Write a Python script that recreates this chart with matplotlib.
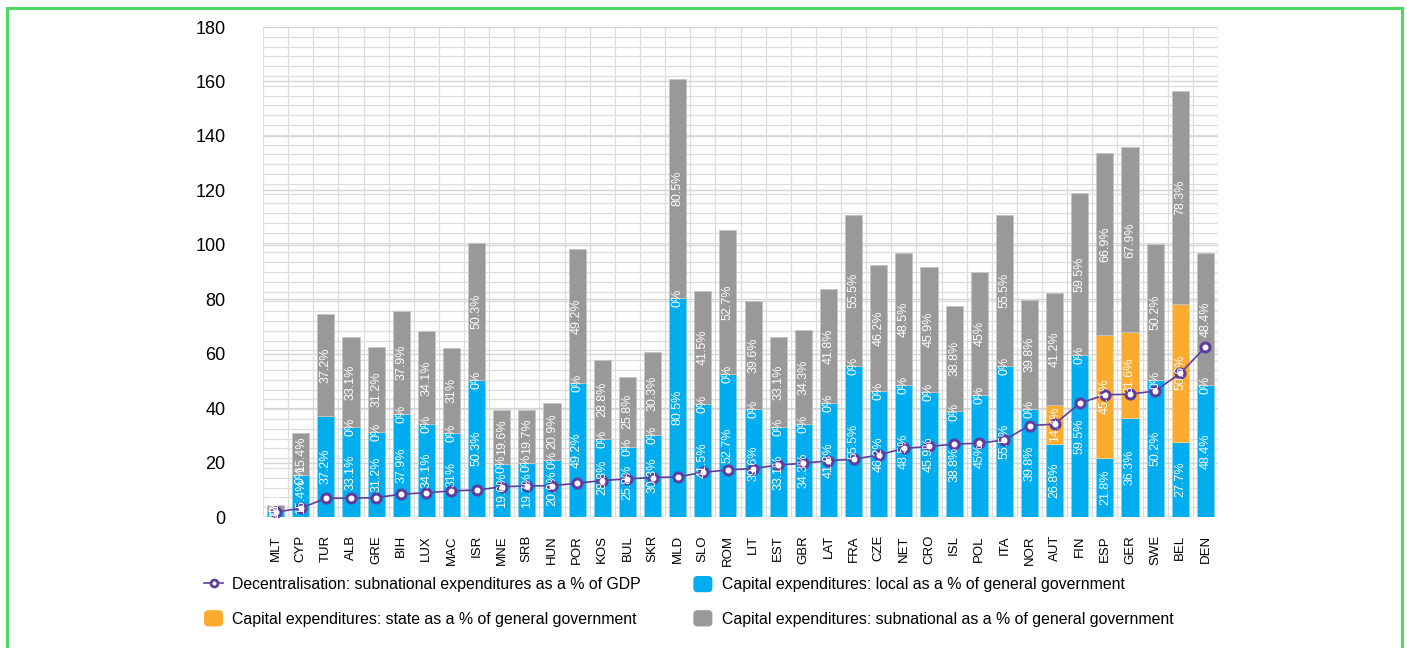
"""
Decentralisation and capital expenditures by country
"""

import matplotlib
matplotlib.use('Agg')
import matplotlib.pyplot as plt
import matplotlib.ticker as mticker
import numpy as np
from matplotlib.legend_handler import HandlerPatch
from matplotlib.lines import Line2D
from matplotlib.patches import FancyBboxPatch, Patch

countries = ['MLT', 'CYP', 'TUR', 'ALB', 'GRE', 'BIH', 'LUX', 'MAC', 'ISR',
             'MNE', 'SRB', 'HUN', 'POR', 'KOS', 'BUL', 'SKR', 'MLD', 'SLO',
             'ROM', 'LIT', 'EST', 'GBR', 'LAT', 'FRA', 'CZE', 'NET', 'CRO',
             'ISL', 'POL', 'ITA', 'NOR', 'AUT', 'FIN', 'ESP', 'GER', 'SWE',
             'BEL', 'DEN']

# Capital expenditures as % of general government
local = [2.2, 15.4, 37.2, 33.1, 31.2, 37.9, 34.1, 31, 50.3,
         19.6, 19.7, 20.9, 49.2, 28.8, 25.8, 30.3, 80.5, 41.5,
         52.7, 39.6, 33.1, 34.3, 41.8, 55.5, 46.2, 48.5, 45.9,
         38.8, 45, 55.5, 39.8, 26.8, 59.5, 21.8, 36.3, 50.2,
         27.7, 48.4]
state = [0, 0, 0, 0, 0, 0, 0, 0, 0,
         0, 0, 0, 0, 0, 0, 0, 0, 0,
         0, 0, 0, 0, 0, 0, 0, 0, 0,
         0, 0, 0, 0, 14.4, 0, 45.1, 31.6, 0,
         50.6, 0]
subnational = [2.2, 15.4, 37.2, 33.1, 31.2, 37.9, 34.1, 31, 50.3,
               19.6, 19.7, 20.9, 49.2, 28.8, 25.8, 30.3, 80.5, 41.5,
               52.7, 39.6, 33.1, 34.3, 41.8, 55.5, 46.2, 48.5, 45.9,
               38.8, 45, 55.5, 39.8, 41.2, 59.5, 66.9, 67.9, 50.2,
               78.3, 48.4]

# Decentralisation: subnational expenditures as % of GDP
decentralisation = [1.8, 3.2, 6.9, 6.9, 7.1, 8.4, 8.9, 9.6, 9.9,
                    11.1, 11.4, 11.5, 12.4, 13.4, 14.0, 14.5, 14.7, 16.4,
                    17.3, 17.8, 19.1, 19.7, 20.7, 21.2, 22.8, 25.2, 25.9,
                    26.8, 27.1, 28.3, 33.6, 34.1, 41.8, 44.9, 45.1, 46.3,
                    52.8, 62.4]

BLUE = '#00aeef'
ORANGE = '#fbab30'
GREY = '#999999'
PURPLE = '#5e3d9e'


class RoundedHandler(HandlerPatch):
    def create_artists(self, legend, orig_handle, xdescent, ydescent,
                       width, height, fontsize, trans):
        p = FancyBboxPatch((-xdescent, -ydescent), width, height,
                           boxstyle='round,pad=0,rounding_size=3',
                           facecolor=orig_handle.get_facecolor(),
                           edgecolor='none', transform=trans)
        return [p]


def pct(values):
    return [f'{v:g}%' for v in values]


plt.rcParams['font.family'] = ['Liberation Sans', 'DejaVu Sans']

fig = plt.figure(figsize=(14.07, 6.48), dpi=100)
ax = fig.add_axes([263 / 1407, 1 - 517 / 648, 955 / 1407, 490 / 648])

x = np.arange(len(countries))
local_a = np.array(local)
state_a = np.array(state)
sub_a = np.array(subnational)

w = 0.68
b1 = ax.bar(x, local_a, w, color=BLUE, edgecolor='#7fd3f3', linewidth=0.6, zorder=2)
b2 = ax.bar(x, state_a, w, bottom=local_a, color=ORANGE, edgecolor='#fcd08a',
            linewidth=0.6, zorder=2)
b3 = ax.bar(x, sub_a, w, bottom=local_a + state_a, color=GREY,
            edgecolor='#c4c4c4', linewidth=0.6, zorder=2)

ax.plot(x, decentralisation, color=PURPLE, lw=1.2, marker='o', ms=6.5,
        mfc='white', mec=PURPLE, mew=2.2, zorder=3)

lab_kw = dict(label_type='center', rotation=90, color='white', fontsize=9, zorder=4)
ax.bar_label(b1, labels=pct(local), **lab_kw)
state_labels = pct(state)
state_labels[countries.index('TUR')] = ''
ax.bar_label(b2, labels=state_labels, **lab_kw)
ax.bar_label(b3, labels=pct(subnational), **lab_kw)

ax.set_xlim(-0.5, len(countries) - 0.5)
ax.set_ylim(0, 180)
ax.set_xticks(x)
ax.set_xticklabels(countries, rotation=90, fontsize=9.5)
ax.yaxis.set_major_locator(mticker.MultipleLocator(20))
ax.yaxis.set_minor_locator(mticker.MultipleLocator(3.6))
ax.xaxis.set_minor_locator(mticker.FixedLocator(np.arange(-0.5, len(countries), 1)))
ax.tick_params(axis='y', labelsize=13, length=0, pad=27)
ax.tick_params(axis='x', length=0, pad=13)
ax.tick_params(which='minor', length=0)
ax.grid(which='major', axis='y', color='#d4d4d4', lw=1, zorder=0)
ax.grid(which='minor', axis='both', color='#dddddd', lw=0.9, zorder=0)
ax.set_axisbelow(True)
for s in ax.spines.values():
    s.set_visible(False)

handles = [
    Line2D([], [], color=PURPLE, lw=1.2, marker='o', ms=5, mfc='white',
           mec=PURPLE, mew=2),
    Patch(facecolor=ORANGE),
    Patch(facecolor=BLUE),
    Patch(facecolor=GREY),
]
labels = [
    'Decentralisation: subnational expenditures as a % of GDP',
    'Capital expenditures: state as a % of general government',
    'Capital expenditures: local as a % of general government',
    'Capital expenditures: subnational as a % of general government',
]
fig.legend(handles, labels, ncol=2, loc='upper left',
           bbox_to_anchor=(204 / 1407, 1 - 576 / 648), frameon=False,
           fontsize=11.4, handlelength=1.2, handleheight=1.2,
           handletextpad=0.6, columnspacing=3.3, labelspacing=1.12,
           borderpad=0, borderaxespad=0,
           handler_map={Patch: RoundedHandler()})

# green frame around the card
for xs, ys in [((6.5, 6.5), (648, 8)), ((6.5, 1402), (8, 8)), ((1402, 1402), (8, 648))]:
    fig.add_artist(Line2D([v / 1407 for v in xs], [1 - v / 648 for v in ys],
                          color='#4cd964', lw=2.2, transform=fig.transFigure))

fig.savefig('out.png', dpi=100)
